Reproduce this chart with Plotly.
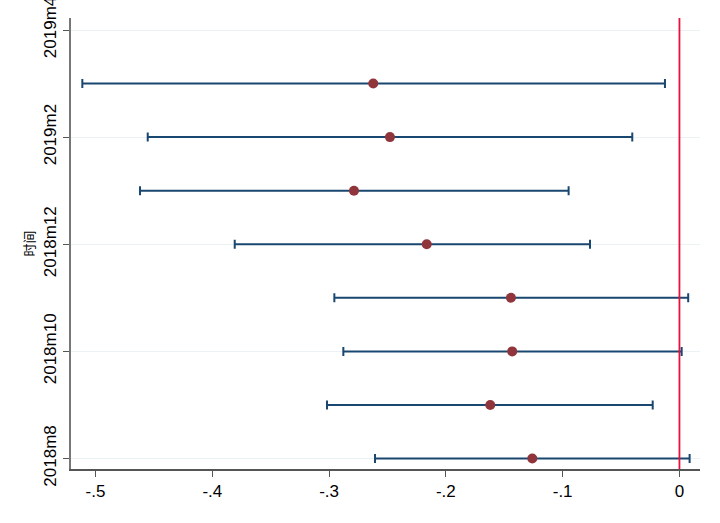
import plotly.graph_objects as go

months = ["2018m8", "2018m9", "2018m10", "2018m11", "2018m12",
          "2019m1", "2019m2", "2019m3", "2019m4"]
est_months = ["2018m8", "2018m9", "2018m10", "2018m11", "2018m12",
              "2019m1", "2019m2", "2019m3"]
coef = [-0.1260, -0.1620, -0.1432, -0.1443, -0.2164, -0.2787, -0.2479, -0.2622]
ci_low = [-0.2607, -0.3018, -0.2878, -0.2955, -0.3808, -0.4619, -0.4553, -0.5113]
ci_high = [0.0087, -0.0229, 0.0019, 0.0075, -0.0766, -0.0949, -0.0404, -0.0124]
y_ticks = ["2018m8", "2018m10", "2018m12", "2019m2", "2019m4"]
x_ticks = [-0.5, -0.4, -0.3, -0.2, -0.1, 0]
x_tick_text = ["-.5", "-.4", "-.3", "-.2", "-.1", "0"]

err_plus = [h - c for h, c in zip(ci_high, coef)]
err_minus = [c - l for c, l in zip(coef, ci_low)]

fig = go.Figure()
fig.add_trace(go.Scatter(
    x=coef, y=est_months, mode="markers",
    marker=dict(color="#90353b", size=10),
    error_x=dict(type="data", symmetric=False, array=err_plus, arrayminus=err_minus,
                 color="#1a476f", thickness=2, width=4.5),
    showlegend=False,
))

fig.add_shape(type="line", xref="x", yref="paper", x0=0, x1=0, y0=0, y1=1,
              line=dict(color="#e8103c", width=1.8))

fig.update_layout(
    width=720, height=523,
    margin=dict(l=71, r=20, t=18, b=54),
    paper_bgcolor="white", plot_bgcolor="white",
    font=dict(family="Liberation Sans, Arial, sans-serif", size=17, color="black"),
    xaxis=dict(
        range=[-0.521, 0.0176],
        tickmode="array", tickvals=x_ticks, ticktext=x_tick_text,
        showgrid=False, zeroline=False, automargin=False,
        showline=True, linecolor="#555555", linewidth=1.5,
        ticks="outside", ticklen=6, tickcolor="#555555", tickwidth=1.2,
        tickfont=dict(size=17),
    ),
    yaxis=dict(
        type="category", categoryorder="array", categoryarray=months,
        range=[-0.196, 8.224], automargin=False,
        tickmode="array", tickvals=y_ticks, ticktext=y_ticks,
        tickangle=-90,
        showgrid=True, gridcolor="#eaf2f3", gridwidth=1,
        zeroline=False,
        showline=True, linecolor="#777777", linewidth=1.5,
        ticks="outside", ticklen=6, tickcolor="#555555", tickwidth=1.2,
        tickfont=dict(size=17),
        title=dict(text="时间", font=dict(family="Noto Sans CJK SC", size=13), standoff=4),
    ),
)

fig.write_html("out.html", config={"displayModeBar": False},
               post_script="document.body.style.margin='0';")
